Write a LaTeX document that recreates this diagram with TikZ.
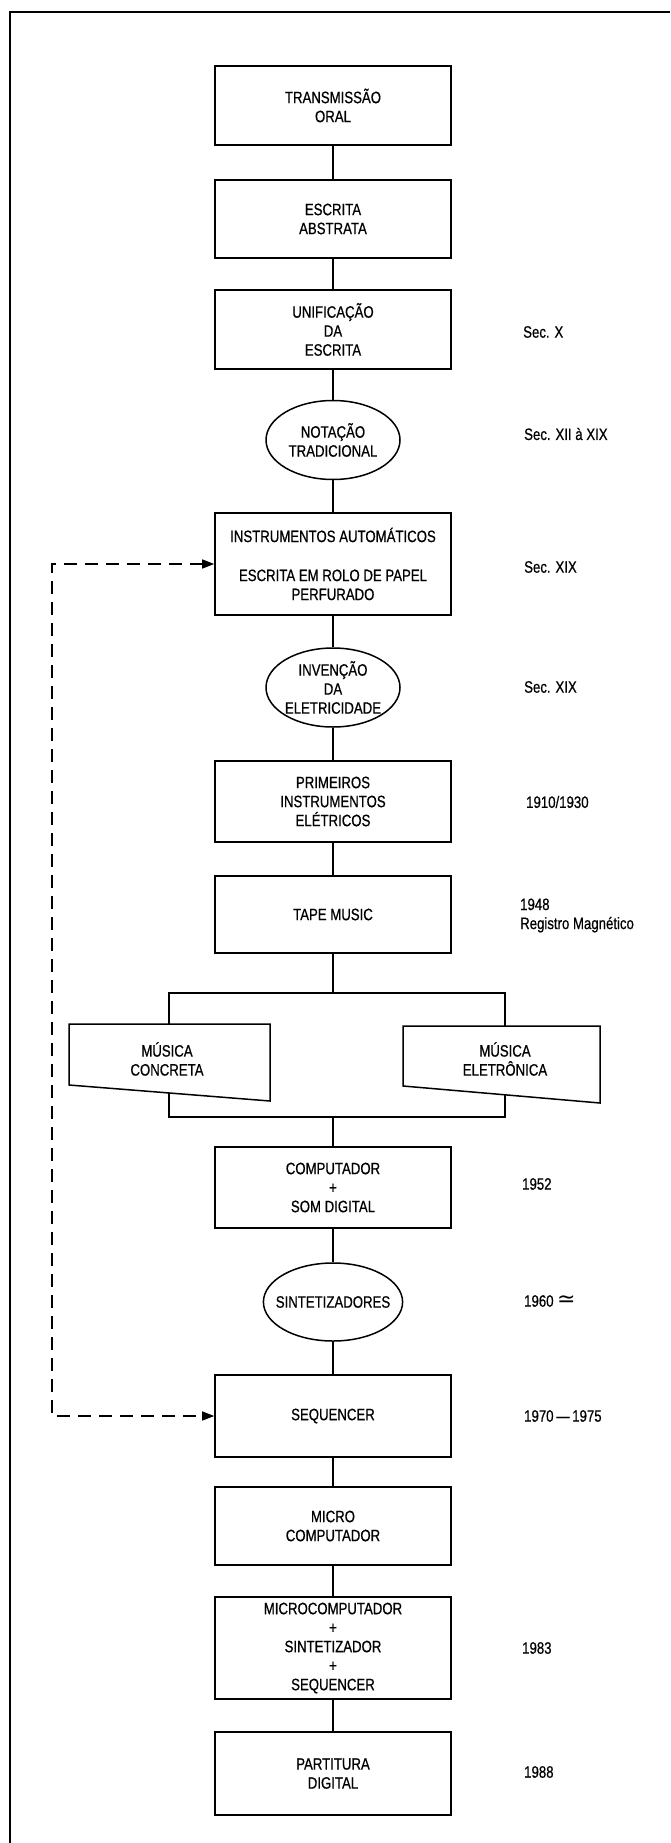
\documentclass[tikz,border=0pt]{standalone}
\usepackage{fontspec}
\setmainfont{Liberation Sans}[FakeStretch=0.8,FakeBold=0.6]
\newfontfamily\symfont{DejaVu Sans}
\usetikzlibrary{arrows.meta,shapes.geometric}
\newcommand\diagfont{\fontsize{16.5}{19}\selectfont}
\begin{document}
\begin{tikzpicture}[x=1pt,y=-1pt,
  box/.style={draw, line width=1.6pt, minimum width=236pt, inner sep=0pt, align=center, font=\diagfont},
  oval/.style={ellipse, draw, line width=1.5pt, minimum width=134pt, minimum height=79pt, inner sep=-8pt, align=center, font=\diagfont},
  link/.style={line width=1.2pt},
  music/.style={line width=1.5pt, fill=white},
  mtext/.style={inner sep=0pt, align=center, font=\diagfont},
  datelbl/.style={anchor=west, align=left, inner sep=0pt, font=\diagfont},
  feedback/.style={line width=1.4pt, dash pattern=on 13pt off 8pt, {Triangle[length=12pt,width=9pt]}-{Triangle[length=12pt,width=9pt]}}
]
\useasboundingbox (0,0) rectangle (670,1843);
\fill[white] (0,0) rectangle (670,1843);
% frame
\draw[line width=2.8pt] (9.2,12) -- (670,12);
\draw[line width=1.6pt] (10,12) -- (10,1843);

% main column
\node[box, minimum height=79pt] (trans) at (333,105.5) {TRANSMISSÃO\\ORAL};
\node[box, minimum height=78pt] (escr) at (333,219) {ESCRITA\\ABSTRATA};
\node[box, minimum height=79pt] (unif) at (333,329.5) {UNIFICAÇÃO\\DA\\ESCRITA};
\node[oval] (notac) at (333,440) {NOTAÇÃO\\TRADICIONAL};
\node[box, minimum height=102pt] (instr) at (333,564) {INSTRUMENTOS AUTOMÁTICOS\\[20pt]ESCRITA EM ROLO DE PAPEL\\PERFURADO};
\node[oval] (inven) at (333,687.5) {INVENÇÃO\\DA\\ELETRICIDADE};
\node[box, minimum height=81pt] (prim) at (333,801.5) {PRIMEIROS\\INSTRUMENTOS\\ELÉTRICOS};
\node[box, minimum height=77pt] (tape) at (333,914.5) {TAPE MUSIC};
\node[draw, line width=1.4pt, minimum width=336pt, minimum height=124pt, inner sep=0pt] (split) at (337,1055) {};
\node[box, minimum height=81pt] (comp) at (333,1187.5) {COMPUTADOR\\+\\SOM DIGITAL};
\node[oval, minimum height=78pt] (sint) at (333,1302) {SINTETIZADORES};
\node[box, minimum height=82pt] (seq) at (333,1416) {SEQUENCER};
\node[box, minimum height=78pt] (micro) at (333,1526) {MICRO\\COMPUTADOR};
\node[box, minimum height=102pt] (msint) at (333,1648) {MICROCOMPUTADOR\\+\\SINTETIZADOR\\+\\SEQUENCER};
\node[box, minimum height=83pt] (part) at (333,1773.5) {PARTITURA\\DIGITAL};

% music shapes over the split bracket
\draw[music] (69,1024) -- (270,1024) -- (270,1101) -- (69,1085) -- cycle;
\node[mtext] (conc) at (167,1059) {MÚSICA\\CONCRETA};
\draw[music] (403,1026) -- (600,1026) -- (600,1103) -- (403,1086) -- cycle;
\node[mtext] (elet) at (505,1059) {MÚSICA\\ELETRÔNICA};

% connectors
\draw[link] (trans.south) -- (escr.north);
\draw[link] (escr.south) -- (unif.north);
\draw[link] (unif.south) -- (notac.north);
\draw[link] (notac.south) -- (instr.north);
\draw[link] (instr.south) -- (inven.north);
\draw[link] (inven.south) -- (prim.north);
\draw[link] (prim.south) -- (tape.north);
\draw[link] (tape.south) -- (tape.south |- split.north);
\draw[link] (comp.north |- split.south) -- (comp.north);
\draw[link] (comp.south) -- (sint.north);
\draw[link] (sint.south) -- (seq.north);
\draw[link] (seq.south) -- (micro.north);
\draw[link] (micro.south) -- (msint.north);
\draw[link] (msint.south) -- (part.north);

% feedback dashed connector
\coordinate (dline) at (52,0);
\draw[feedback] (instr.west) -- (instr.west -| dline) -- (seq.west -| dline) -- (seq.west);

% dates
\node[datelbl] (d1) at (523,332) {Sec. X};
\node[datelbl] (d2) at (524,434) {Sec. XII à XIX};
\node[datelbl] (d3) at (524,567) {Sec. XIX};
\node[datelbl] (d4) at (524,687) {Sec. XIX};
\node[datelbl] (d5) at (526,802) {1910/1930};
\node[datelbl] (d6) at (520,915.5) {1948\\Registro Magnético};
\node[datelbl] (d7) at (522,1184) {1952};
\node[datelbl] (d8) at (524,1301) {1960 {\symfont\fontsize{22}{22}\selectfont ≃}};
\node[datelbl] (d9) at (524,1416) {1970\,—\,1975};
\node[datelbl] (d10) at (522,1648) {1983};
\node[datelbl] (d11) at (524,1772) {1988};
\end{tikzpicture}
\end{document}
